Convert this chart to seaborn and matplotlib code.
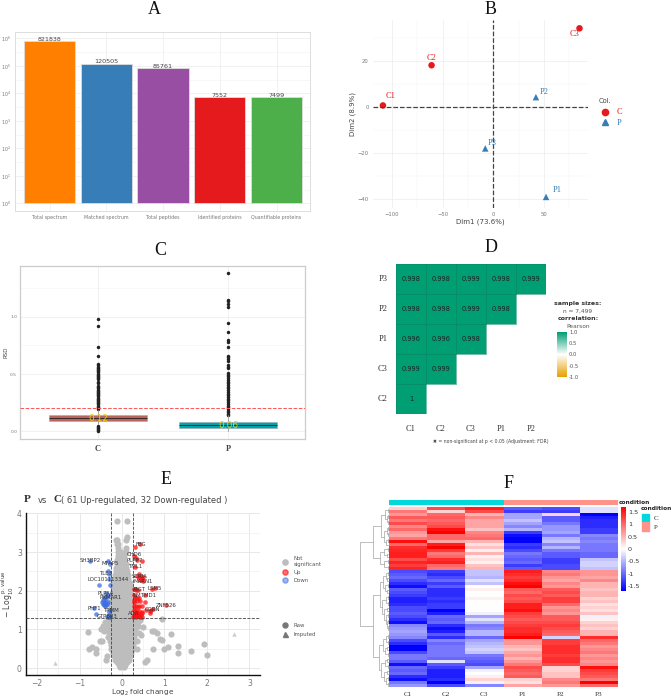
import numpy as np
import pandas as pd
import seaborn as sns
import matplotlib.pyplot as plt
from matplotlib.colors import LinearSegmentedColormap, ListedColormap
from matplotlib.lines import Line2D
from matplotlib.patches import Patch, Rectangle
from matplotlib.ticker import FixedLocator, NullFormatter

# panel A
bar_names = ['Total spectrum', 'Matched spectrum', 'Total peptides', 'Identified proteins', 'Quantifiable proteins']
bar_values = [821838, 120505, 85761, 7552, 7499]
bar_colors = ['#FF7F00', '#377EB8', '#984EA3', '#E41A1C', '#4DAF4A']

# panel B
pca_names = ['C1', 'C2', 'C3', 'P1', 'P2', 'P3']
pca_group = ['C', 'C', 'C', 'P', 'P', 'P']
pca_dim1 = [-109, -61, 85, 52, 42, -8]
pca_dim2 = [0.6, 18, 34, -39, 4.2, -18]

# panel C
rsd_c_out = [0.98, 0.92, 0.735, 0.655, 0.585, 0.575, 0.565, 0.555, 0.545, 0.535, 0.525, 0.515, 0.505, 0.495,
             0.485, 0.475, 0.465, 0.455, 0.43, 0.42, 0.395, 0.385, 0.375, 0.365, 0.355, 0.345, 0.335, 0.325,
             0.315, 0.305, 0.295, 0.285, 0.275, 0.265, 0.255, 0.245, 0.235, 0.225, 0.215, 0.205, 0.195,
             0.05, 0.04, 0.03, 0.02, 0.01, 0.0]
rsd_p_out = [1.38, 1.15, 1.135, 1.115, 1.085, 0.945, 0.87, 0.795, 0.78, 0.74, 0.66, 0.645, 0.63, 0.615, 0.58,
             0.565, 0.55, 0.51, 0.495, 0.48, 0.465, 0.45, 0.435, 0.42, 0.405, 0.39, 0.375, 0.36, 0.345, 0.33,
             0.315, 0.3, 0.285, 0.27, 0.255, 0.24, 0.225, 0.21, 0.195, 0.18, 0.165, 0.15, 0.14]
box_q1 = [0.092, 0.033]
box_med = [0.115, 0.055]
box_q3 = [0.14, 0.085]
box_lo = [0.06, 0.0]
box_hi = [0.19, 0.14]
box_colors = ['#B9645C', '#00A3AC']
box_text = ['0.12', '0.06']

# panel D
corr_rows = ['P3', 'P2', 'P1', 'C3', 'C2']
corr_cols = ['C1', 'C2', 'C3', 'P1', 'P2']
corr_p3 = [0.998, 0.998, 0.999, 0.998, 0.999]
corr_p2 = [0.998, 0.998, 0.999, 0.998, np.nan]
corr_p1 = [0.996, 0.996, 0.998, np.nan, np.nan]
corr_c3 = [0.999, 0.999, np.nan, np.nan, np.nan]
corr_c2 = [1, np.nan, np.nan, np.nan, np.nan]

# panel E, the grey mass row by row (y: x values)
grey_rows = {
    0.02: [-0.04, 0.04], 0.08: [-0.08, 0.0, 0.08], 0.15: [-0.12, -0.04, 0.04, 0.12],
    0.22: [-0.16, -0.08, 0.0, 0.08, 0.16], 0.3: [-0.19, -0.11, -0.03, 0.04, 0.11, 0.19],
    0.4: [-0.22, -0.13, -0.04, 0.04, 0.13, 0.22], 0.5: [-0.25, -0.15, -0.05, 0.05, 0.15, 0.25],
    0.6: [-0.26, -0.16, -0.05, 0.05, 0.16, 0.26], 0.7: [-0.28, -0.18, -0.09, 0.0, 0.09, 0.18, 0.28],
    0.8: [-0.29, -0.19, -0.09, 0.0, 0.09, 0.19, 0.29], 0.9: [-0.3, -0.2, -0.1, 0.0, 0.1, 0.2, 0.3],
    1.0: [-0.31, -0.21, -0.1, 0.0, 0.1, 0.21, 0.31], 1.1: [-0.31, -0.21, -0.1, 0.0, 0.1, 0.21, 0.31],
    1.2: [-0.3, -0.2, -0.1, 0.0, 0.1, 0.2, 0.3], 1.3: [-0.29, -0.2, -0.1, 0.0, 0.1, 0.2, 0.29],
    1.4: [-0.27, -0.18, -0.09, 0.0, 0.09, 0.18, 0.27], 1.5: [-0.26, -0.17, -0.08, 0.01, 0.1, 0.18, 0.26],
    1.6: [-0.25, -0.16, -0.08, 0.0, 0.08, 0.17, 0.25], 1.7: [-0.25, -0.16, -0.08, 0.0, 0.08, 0.17, 0.25],
    1.8: [-0.24, -0.16, -0.08, 0.0, 0.08, 0.16, 0.24], 1.9: [-0.23, -0.15, -0.07, 0.0, 0.08, 0.16, 0.23],
    2.0: [-0.22, -0.14, -0.06, 0.02, 0.1, 0.18], 2.1: [-0.21, -0.13, -0.05, 0.03, 0.11, 0.18],
    2.2: [-0.2, -0.12, -0.04, 0.04, 0.12, 0.18], 2.3: [-0.18, -0.1, -0.02, 0.06, 0.14],
    2.4: [-0.17, -0.09, -0.01, 0.07, 0.14], 2.5: [-0.15, -0.07, 0.01, 0.09, 0.13],
    2.6: [-0.13, -0.05, 0.03, 0.1], 2.7: [-0.12, -0.04, 0.04, 0.1], 2.8: [-0.11, -0.03, 0.05],
    2.9: [-0.09, -0.02, 0.04], 3.0: [-0.1, -0.02, 0.1], 3.1: [-0.1, 0.1], 3.2: [-0.12, -0.1],
    3.3: [-0.13, -0.12, 0.1], 3.4: [0.11], 3.8: [-0.11, 0.12],
}
grey_far_x = [1.92, 2.0, 1.63, 1.32, 1.32, 1.08, 1.0, 0.72, 0.7, 0.75, 0.82, 0.9, 0.95, 1.15, 0.55, 0.58, 0.45, 0.5,
              0.38, 0.4, 0.35, -0.8, -0.78, -0.7, -0.62, -0.6, -0.5, -0.52, -0.48, -0.45, -0.4, -0.35, -0.38, -0.42,
              -0.32, -0.34, -0.36, 0.95, 0.42, 0.36, 0.38]
grey_far_y = [0.62, 0.34, 0.43, 0.58, 0.4, 0.55, 0.5, 0.49, 0.95, 0.95, 0.9, 0.75, 0.72, 0.88, 0.15, 0.2, 0.85, 1.05,
              1.1, 0.9, 0.5, 0.94, 0.5, 0.54, 0.5, 0.4, 1.0, 0.7, 0.71, 1.1, 1.2, 0.3, 0.2, 0.95, 0.8, 1.15, 1.05,
              1.28, 1.25, 0.7, 1.2]
tri_x = [2.63, -1.58]
tri_y = [0.87, 0.12]
up_x = [0.3, 0.43, 0.29, 0.32, 0.36, 0.48, 0.31, 0.39, 0.41, 0.45, 0.5, 0.46, 0.36, 0.42, 0.5, 0.77, 0.71, 0.55, 0.55,
        0.28, 0.3, 0.34, 0.38, 0.29, 0.3, 0.35, 0.4, 0.28, 0.29, 0.35, 0.43, 0.47, 0.56, 1.04, 0.74, 0.68, 0.65,
        0.66, 0.28, 0.33, 0.37, 0.41, 0.46, 0.29, 0.34, 0.4, 0.47, 0.3, 0.36, 0.28, 0.32, 0.38, 0.44, 0.31, 0.35,
        0.4, 0.27, 0.33, 0.42, 0.48, 0.37]
up_y = [3.12, 3.2, 2.9, 2.85, 2.8, 2.78, 2.62, 2.44, 2.36, 2.38, 2.36, 2.3, 2.37, 2.28, 2.26, 2.07, 2.04, 1.88, 1.72,
        2.05, 2.04, 2.03, 2.02, 1.88, 1.85, 1.82, 1.8, 1.75, 1.72, 1.74, 1.74, 1.6, 1.5, 1.62, 1.53, 1.5, 1.47,
        1.42, 1.6, 1.6, 1.58, 1.6, 1.45, 1.5, 1.5, 1.48, 1.42, 1.42, 1.42, 1.38, 1.38, 1.38, 1.38, 1.34, 1.34,
        1.34, 1.33, 1.32, 1.32, 1.32, 1.42]
down_x = [-0.33, -0.75, -0.28, -0.32, -0.3, -0.55, -0.3, -0.28, -0.38, -0.34, -0.36, -0.4, -0.42, -0.38, -0.46, -0.44,
          -0.41, -0.39, -0.36, -0.33, -0.44, -0.42, -0.4, -0.38, -0.62, -0.66, -0.29, -0.31, -0.35, -0.28, -0.3, -0.32]
down_y = [2.78, 2.77, 2.7, 2.5, 2.42, 2.16, 2.3, 2.15, 1.93, 1.9, 1.86, 1.84, 1.8, 1.78, 1.72, 1.75, 1.72, 1.68, 1.66,
          1.72, 1.65, 1.62, 1.6, 1.64, 1.4, 1.54, 1.49, 1.45, 1.33, 1.32, 1.33, 1.35]
gene_names = ['FBG', 'CHD6', 'PLPP7', 'TML1', 'SCRIA', 'MARN1', 'LSM5', 'PIGT', 'LMTMD1', 'ZNF526', 'CGRN', 'ADA',
              'SH3BP2', 'MFAP5', 'TLE3', 'LOC101113344', 'PLPA4', 'PXMAR1', 'PHF1', 'TPMM', 'GTPBP3']
gene_x = [0.44, 0.3, 0.3, 0.31, 0.42, 0.5, 0.77, 0.4, 0.55, 1.04, 0.71, 0.28, -0.75, -0.27, -0.38, -0.33, -0.38, -0.27,
          -0.66, -0.27, -0.35]
gene_y = [3.2, 2.93, 2.77, 2.62, 2.37, 2.25, 2.07, 2.04, 1.87, 1.62, 1.51, 1.4, 2.77, 2.7, 2.45, 2.3, 1.93, 1.82, 1.54,
          1.49, 1.33]

# panel F
heat_c1 = [0.3, 0.9, 0.7, 1.1, 0.9, 1.2, 0.8, 1.0, 0.7, 0.6, 0.9, 1.6, 1.0, 1.4, 1.45, 1.5, 1.5, 1.2, 1.45, 1.3, 1.45,
           -1.2, -1.1, -1.0, -1.2, -1.4, -1.6, -1.1, -1.2, -1.3, -1.5, -1.5, -1.4, -1.2, -1.2, -1.1, -1.2, -1.4, -1.6,
           -0.8, -0.7, -0.6, -0.7, -0.8, -1.2, -1.4, -1.7, -1.7, -1.2, -0.9, -0.9, -1.1, -1.6, -1.0, -1.1, -1.0, -1.4,
           -1.6, -0.9, -0.7]
heat_c2 = [1.2, 0.3, 1.0, 1.1, 1.0, 1.1, 1.2, 1.6, 1.7, 1.0, 1.0, 0.6, 1.5, 1.7, 1.3, 0.9, 1.0, 1.4, 1.5, 1.0, 0.9,
           -1.3, -1.4, -1.2, -1.0, -1.3, -1.1, -1.4, -1.4, -1.4, -1.3, -1.4, -1.3, -1.3, -1.7, -1.5, -1.0, -1.1, -1.0,
           -1.4, -1.6, -1.5, -1.1, -1.4, -0.8, -1.0, -0.9, -0.9, -0.9, -0.9, -1.0, -0.2, -1.1, -1.3, -1.5, -1.5, -1.5,
           -1.4, -1.7, -1.2]
heat_c3 = [1.5, 1.2, 0.5, 0.8, 0.6, 0.6, 0.6, 0.4, 0.8, 0.9, 1.0, 0.5, 0.2, 0.4, 0.1, 0.5, 0.1, 0.2, 0.1, 0.4, 0.5,
           -0.4, -0.4, -0.5, -0.2, -0.4, 0.0, 0.1, 0.0, 0.0, 0.1, 0.0, 0.0, 0.0, 0.0, -0.1, -0.6, -0.2, -0.5,
           -0.9, -0.8, -0.5, -0.5, -1.0, -0.6, -0.5, -0.4, -0.3, -0.4, -0.9, -1.0, -1.1, -1.2, -0.6, -0.1, 0.0, 0.1,
           0.3, -0.1, -0.8]
heat_p1 = [-1.1, -1.3, -0.6, -0.6, -0.4, -0.6, -0.8, -0.5, -1.3, -1.6, -1.7, -1.7, -1.3, -1.4, -1.2, -0.9, -1.0, -1.1,
           -1.0, -1.3, -1.1,
           1.5, 1.4, 1.3, 1.4, 1.6, 1.8, 1.1, 1.0, 1.2, 1.1, 1.2, 1.5, 1.5, 1.6, 1.3, 1.2, 1.1, 1.2,
           1.3, 1.4, 1.4, 1.5, 1.8, 0.7, 0.7, 0.5, 0.4, 0.6, 0.7, 0.5, 0.7, 0.9, 1.2, 1.1, 1.0, 1.1, 0.3, 0.2, 0.6]
heat_p2 = [-1.2, -1.3, 0.3, -1.1, -1.1, -0.9, -0.7, -0.7, -0.6, -0.9, -0.5, -0.4, -0.8, -0.5, -0.9, -1.1, -1.1, -1.3,
           -1.3, -1.2, -1.2,
           0.8, 0.9, 0.7, 0.6, 0.8, 0.7, 1.1, 1.2, 1.1, 1.3, 1.3, 1.0, 0.7, 0.8, 0.7, 1.1, 1.1, 1.2,
           1.3, 1.2, 1.1, 1.0, -0.3, 1.3, 1.3, 1.4, 1.4, 1.4, 1.3, 1.4, 1.4, 1.2, 0.3, 0.3, 0.4, 0.4, 0.8, 0.9, 0.7]
heat_p3 = [-0.2, -0.2, -1.7, -1.5, -1.4, -1.4, -1.4, -1.3, -1.3, -0.8, -0.9, -0.8, -0.9, -0.9, -0.9, -1.0, -1.0, -0.4,
           -0.3, -0.3, -0.4,
           0.7, 0.7, 0.6, 0.8, 0.5, 0.5, 0.4, 0.5, 0.5, 0.3, 0.4, 0.2, 0.3, 0.2, 0.4, -0.1, 0.1, 0.3,
           0.4, 0.3, 0.5, 0.5, 1.4, 1.0, 0.9, 0.7, 0.8, 0.9, 0.7, 0.8, 0.7, 0.8, 1.6, 1.3, 1.2, 1.1, 0.9, 1.7, 1.0]
heat_samples = ['C1', 'C2', 'C3', 'P1', 'P2', 'P3']
heat_groups = [0, 0, 0, 1, 1, 1]
group_colors = ['#00D8DC', '#FF9289']

# row tree of the heatmap: (height, child, child), leaves are row numbers
top_tree = (16, (8, (4, (1, 0, 1), (2, (1, 2, 3), (1, 4, 5))), (5, (2, (1, 6, 7), (1, 8, 9)), (3, (1, 10, 11), 12))),
            (9, (5, (1, 13, 14), (2, 15, 16)), (5, (1, 17, 18), (1, 19, 20))))
low_a = (9, (6, (3, (1, 21, 22), (2, 23, 24)), (4, (1, 25, 26), (2, 27, 28))),
         (7, (3, (1, 29, 30), (1, 31, 32)), (5, (2, 33, 34), (3, (1, 35, 36), (2, (1, 37, 38), (1, 39, (0.5, 40, 41)))))))
low_b = (10, (6, (3, (1, 42, 43), (1, 44, 45)), (4, (2, 46, 47), (1, 48, 49))),
         (8, (4, (2, 50, 51), (1, 52, 53)), (5, (2, 54, 55), (3, (1, 56, 57), (1, 58, 59)))))
row_tree = (29, top_tree, (16, low_a, low_b))

W, H = 671, 700
sns.set_theme(style="white")
plt.rcParams['font.family'] = 'DejaVu Sans'
SERIF = 'Liberation Serif'
fig = plt.figure(figsize=(W / 100, H / 100), dpi=100)


def add_ax(x0, y0, x1, y1):
    return fig.add_axes([x0 / W, 1 - y1 / H, (x1 - x0) / W, (y1 - y0) / H])


def put_text(x, y, s, **kw):
    kw.setdefault('va', 'center')
    fig.text(x / W, 1 - y / H, s, **kw)


def put_legend(handles, labels, x, y, **kw):
    return fig.legend(handles, labels, loc='upper left', bbox_to_anchor=(x / W, 1 - y / H), frameon=False,
                      borderpad=0, borderaxespad=0, **kw)


for letter, lx, ly in [('A', 154, 9), ('B', 491, 9), ('C', 160.5, 250), ('D', 491, 248), ('E', 166, 480), ('F', 509, 484)]:
    put_text(lx, ly, letter, family=SERIF, fontsize=13, ha='center', color='#111111')

# A
ax = add_ax(15, 32, 310, 211)
df = pd.DataFrame({'name': bar_names, 'value': bar_values})
sns.barplot(data=df, x='name', y='value', hue='name', palette=bar_colors, saturation=1, width=0.9, bottom=1,
            edgecolor='#dddddd', linewidth=0.6, legend=False, ax=ax)
ax.set_yscale('log')
ax.set_xlim(-0.608, 4.59)
ax.set_ylim(10 ** -0.273, 10 ** 6.236)
ax.set_yticks([10 ** i for i in range(7)])
ax.yaxis.set_minor_locator(FixedLocator([10 ** (i + 0.5) for i in range(6)]))
ax.yaxis.set_minor_formatter(NullFormatter())
ax.grid(True, which='major', color='#ebebeb', lw=0.5)
ax.grid(True, which='minor', axis='y', color='#f2f2f2', lw=0.4)
ax.set_axisbelow(True)
ax.tick_params(axis='both', which='both', length=0, labelsize=3.4, labelcolor='#777777', pad=3)
ax.set_xlabel('')
ax.set_ylabel('')
for s in ax.spines.values():
    s.set_color('#dddddd')
    s.set_linewidth(0.7)
for i, v in enumerate(bar_values):
    ax.annotate(str(v), (i, v), xytext=(0, -0.5), textcoords='offset points', ha='center', va='bottom',
                fontsize=4.6, color='#444444')

# B
ax = add_ax(373, 20, 588, 208)
df = pd.DataFrame({'dim1': pca_dim1, 'dim2': pca_dim2, 'group': pca_group, 'name': pca_names})
pca_palette = {'C': '#E41A1C', 'P': '#377EB8'}
sns.scatterplot(data=df, x='dim1', y='dim2', hue='group', style='group', markers={'C': 'o', 'P': '^'},
                palette=pca_palette, s=22, legend=False, linewidth=0, ax=ax)
ax.set_xlim(-118.8, 93.4)
ax.set_ylim(-43.8, 37.6)
ax.set_xticks([-100, -50, 0, 50])
ax.set_yticks([-40, -20, 0, 20])
ax.set_xticks([-75, -25, 25, 75], minor=True)
ax.set_yticks([-30, -10, 10, 30], minor=True)
ax.grid(True, which='major', color='#ebebeb', lw=0.5)
ax.grid(True, which='minor', color='#f3f3f3', lw=0.35)
ax.axhline(0, color='#444444', ls='--', lw=0.9)
ax.axvline(0, color='#444444', ls='--', lw=0.9)
sns.despine(ax=ax, left=True, bottom=True)
ax.tick_params(axis='both', which='major', length=1.5, width=0.4, color='#777777', labelsize=3.8, labelcolor='#777777', pad=1.5)
ax.tick_params(axis='both', which='minor', length=0)
ax.set_xlabel('Dim1 (73.6%)', fontsize=5, color='#444444', labelpad=1)
ax.set_ylabel('Dim2 (8.9%)', fontsize=5, color='#444444', labelpad=1)
label_off = {'C1': (2, 6.8), 'C2': (0, 5.3), 'C3': (-7, -3.9), 'P1': (4.5, 5.3), 'P2': (2.5, 3.6), 'P3': (1.8, 3.6)}
for _, r in df.iterrows():
    ax.annotate(r['name'], (r['dim1'], r['dim2']), xytext=label_off[r['name']], textcoords='offset points',
                family=SERIF, fontsize=6, color=pca_palette[r['group']], ha='left' if r['name'] != 'C2' else 'center',
                va='center')
put_text(599, 101, 'Col.', fontsize=4.8, color='#444444')
leg = put_legend([Line2D([], [], marker='o', ls='', color=pca_palette['C'], ms=4.5),
                  Line2D([], [], marker='^', ls='', color=pca_palette['P'], ms=4.5)], ['C', 'P'], 600, 108.5,
                 prop={'family': SERIF, 'size': 6}, handlelength=1.2, handletextpad=0.8, labelspacing=0.25)
for t, c in zip(leg.get_texts(), pca_palette.values()):
    t.set_color(c)

# C
ax = add_ax(20, 266, 305, 439)
df = pd.DataFrame({'group': ['C'] * len(rsd_c_out) + ['P'] * len(rsd_p_out), 'rsd': rsd_c_out + rsd_p_out})
sns.stripplot(data=df, x='group', y='rsd', order=['C', 'P'], jitter=False, color='#222222', size=2.5, ax=ax, zorder=3)
stats = [{'q1': box_q1[i], 'med': box_med[i], 'q3': box_q3[i], 'whislo': box_lo[i], 'whishi': box_hi[i], 'fliers': []}
         for i in range(2)]
boxes = ax.bxp(stats, positions=[0, 1], widths=0.75, patch_artist=True, showfliers=False, showcaps=False,
               manage_ticks=False, zorder=4,
               boxprops={'edgecolor': '#aaaaaa', 'linewidth': 0.4},
               medianprops={'color': '#222222', 'linewidth': 0.6},
               whiskerprops={'color': '#999999', 'linewidth': 0.6})
for b, c in zip(boxes['boxes'], box_colors):
    b.set_facecolor(c)
ax.axhline(0.2, color='#FF5555', ls='--', lw=0.7, zorder=5)
ax.set_xlim(-0.6, 1.59)
ax.set_ylim(-0.067, 1.444)
ax.set_yticks([0, 0.5, 1.0])
ax.set_yticks([0.25, 0.75, 1.25], minor=True)
ax.set_yticklabels(['0.0', '0.5', '1.0'])
ax.grid(True, which='major', color='#ebebeb', lw=0.5)
ax.grid(True, which='minor', axis='y', color='#f3f3f3', lw=0.4)
ax.set_axisbelow(True)
ax.tick_params(axis='y', which='major', length=1, width=0.3, labelsize=3.2, labelcolor='#777777', pad=1)
ax.tick_params(axis='y', which='minor', length=0)
ax.tick_params(axis='x', length=1, width=0.3, pad=3)
for t in ax.get_xticklabels():
    t.set_fontfamily(SERIF)
    t.set_fontweight('bold')
    t.set_fontsize(6)
    t.set_color('#444444')
ax.set_xlabel('')
ax.set_ylabel('RSD', fontsize=4, color='#444444', labelpad=1)
for s in ax.spines.values():
    s.set_color('#cccccc')
    s.set_linewidth(0.9)
for i, txt in enumerate(box_text):
    ax.text(i, box_med[i], txt, color='#E8CE10', fontsize=6.5, ha='center', va='center', zorder=6)

# D
ax = add_ax(396, 264, 546, 414)
cax = add_ax(557, 332, 567, 377)
corr = pd.DataFrame([corr_p3, corr_p2, corr_p1, corr_c3, corr_c2], index=corr_rows, columns=corr_cols)
corr_cmap = LinearSegmentedColormap.from_list('corr', ['#E69F00', '#FFFFFF', '#009E73'])
sns.heatmap(corr, cmap=corr_cmap, vmin=-1, vmax=1, annot=True, fmt='g', annot_kws={'fontsize': 4.8, 'color': '#222222'},
            mask=corr.isna(), cbar_ax=cax, ax=ax)
# only the filled cells get an outline
for r in range(len(corr_rows)):
    for c in range(len(corr_cols)):
        if not np.isnan(corr.iloc[r, c]):
            ax.add_patch(Rectangle((c, r), 1, 1, fill=False, edgecolor='#0B8A68', lw=0.4))
ax.tick_params(axis='both', length=2, width=0.3, color='#888888', labelsize=6, labelcolor='#333333')
for t in ax.get_xticklabels() + ax.get_yticklabels():
    t.set_fontfamily(SERIF)
ax.tick_params(axis='x', rotation=0, pad=6)
ax.tick_params(axis='y', rotation=0, pad=4)
cax.tick_params(length=0, labelsize=3.8, labelcolor='#555555', pad=1.5)
cax.set_yticks([-1, -0.5, 0, 0.5, 1])
cax.set_yticklabels(['-1.0', '-0.5', '0.0', '0.5', '1.0'])
put_text(578, 303, 'sample sizes:', fontsize=4.5, fontweight='bold', ha='center', color='#333333')
put_text(578, 311, 'n = 7,499', fontsize=4.2, ha='center', color='#555555')
put_text(578, 319, 'correlation:', fontsize=4.5, fontweight='bold', ha='center', color='#333333')
put_text(578, 326, 'Pearson', fontsize=4.2, ha='center', color='#555555')
put_text(491, 441, '\u2716 = non-significant at p < 0.05 (Adjustment: FDR)', fontsize=3.3, ha='center', color='#444444')

# E
ax = add_ax(26, 513, 260, 675)
rows_x = [x for y, xs in grey_rows.items() for x in xs] + grey_far_x
rows_y = [y for y, xs in grey_rows.items() for x in xs] + grey_far_y
sns.scatterplot(x=rows_x, y=rows_y, color='#BDBDBD', s=20, linewidth=0, alpha=1, ax=ax, legend=False, zorder=2)
sns.scatterplot(x=tri_x, y=tri_y, color='#CCCCCC', marker='^', s=10, linewidth=0, ax=ax, legend=False, zorder=2)
sns.scatterplot(x=up_x, y=up_y, color='#FF1010', s=11, linewidth=0, alpha=0.75, ax=ax, legend=False, zorder=3)
sns.scatterplot(x=down_x, y=down_y, color='#3D6FE0', s=11, linewidth=0, alpha=0.75, ax=ax, legend=False, zorder=3)
ax.set_xlim(-2.26, 3.25)
ax.set_ylim(-0.18, 4.01)
ax.set_xticks([-2, -1, 0, 1, 2, 3])
ax.set_yticks([0, 1, 2, 3, 4])
ax.set_xticks([-1.5, -0.5, 0.5, 1.5, 2.5], minor=True)
ax.set_yticks([0.5, 1.5, 2.5, 3.5], minor=True)
ax.grid(True, which='major', color='#e8e8e8', lw=0.7)
ax.grid(True, which='minor', color='#f0f0f0', lw=0.5)
ax.set_axisbelow(True)
for v in [-0.27, 0.27]:
    ax.axvline(v, color='#444444', ls='--', lw=0.6, zorder=4)
ax.axhline(1.3, color='#444444', ls='--', lw=0.6, zorder=4)
sns.despine(ax=ax)
ax.spines['left'].set_color('#111111')
ax.spines['bottom'].set_color('#111111')
ax.spines['left'].set_linewidth(1)
ax.spines['bottom'].set_linewidth(1)
ax.tick_params(axis='both', which='major', length=1.5, width=0.4, labelsize=5.5, labelcolor='#777777', pad=1.5)
ax.tick_params(axis='both', which='minor', length=0)
ax.set_xlabel('Log$_2$ fold change', fontsize=5.2, color='#444444', labelpad=0)
ax.set_ylabel('$-$ Log$_{10}^{\\ \\mathrm{p.value}}$', fontsize=5.6, color='#444444', labelpad=1)
for g, gx, gy in zip(gene_names, gene_x, gene_y):
    ax.text(gx, gy, g, fontsize=3.9, ha='center', va='center', color='#333333', zorder=5)
put_text(24, 500, 'P', family=SERIF, fontweight='bold', fontsize=8, color='#333333')
put_text(38, 500.5, 'vs', fontsize=6, color='#444444')
put_text(53, 500, 'C', family=SERIF, fontweight='bold', fontsize=8, color='#333333')
put_text(61, 500.5, '( 61 Up-regulated, 32 Down-regulated )', fontsize=6.05, color='#444444')
put_legend([Line2D([], [], marker='o', ls='', color=c, ms=3.8, alpha=a)
            for c, a in [('#BDBDBD', 1), ('#FF1010', 0.6), ('#3D6FE0', 0.5)]],
           ['Not\nsignificant', 'Up', 'Down'], 282, 556, fontsize=3.9, handlelength=1, handletextpad=1.2,
           labelspacing=0.6, labelcolor='#555555')
put_legend([Line2D([], [], marker=m, ls='', color='#777777', ms=3.6) for m in ['o', '^']],
           ['Raw', 'Imputed'], 282, 623, fontsize=3.9, handlelength=1, handletextpad=1.2,
           labelspacing=0.7, labelcolor='#555555')

# F
ax = add_ax(389, 507, 618, 687)
cax = add_ax(620.7, 507, 626, 591)
heat = pd.DataFrame({'C1': heat_c1, 'C2': heat_c2, 'C3': heat_c3, 'P1': heat_p1, 'P2': heat_p2, 'P3': heat_p3})
heat_cmap = LinearSegmentedColormap.from_list('bwr2', ['#0000FF', '#FFFFFF', '#FF0000'])
sns.heatmap(heat, cmap=heat_cmap, vmin=-1.7, vmax=1.7, yticklabels=False, cbar_ax=cax, ax=ax)
ax.tick_params(axis='x', length=0, labelsize=5.2, labelcolor='#333333', pad=3.5, rotation=0)
for t in ax.get_xticklabels():
    t.set_fontfamily(SERIF)
cax.set_yticks([-1.5, -1, -0.5, 0, 0.5, 1, 1.5])
cax.set_yticklabels(['-1.5', '-1', '-0.5', '0', '0.5', '1', '1.5'])
cax.tick_params(length=0, labelsize=4.6, labelcolor='#333333', pad=1.5)

bar_ax = add_ax(389, 500, 618, 505)
sns.heatmap([heat_groups], cmap=ListedColormap(group_colors), cbar=False, xticklabels=False, yticklabels=False, ax=bar_ax)

tree_ax = add_ax(359, 507, 389, 687)
tree_ax.set_xlim(30, 0)
tree_ax.set_ylim(60, 0)
tree_ax.axis('off')


def draw_tree(node):
    # returns (row centre, height) of the node
    if not isinstance(node, tuple):
        return node + 0.5, 0
    h, a, b = node
    ya, ha = draw_tree(a)
    yb, hb = draw_tree(b)
    tree_ax.plot([ha, h, h, hb], [ya, ya, yb, yb], color='#999999', lw=0.45, solid_joinstyle='miter')
    return (ya + yb) / 2, h


draw_tree(row_tree)

put_text(619, 503, 'condition', fontsize=4.2, fontweight='bold', color='#222222')
put_text(641, 509, 'condition', fontsize=4.2, fontweight='bold', color='#222222')
put_legend([Patch(color=group_colors[0]), Patch(color=group_colors[1])], ['C', 'P'], 642, 513.5,
           prop={'family': SERIF, 'size': 5}, handlelength=1.05, handleheight=1.6, handletextpad=0.7,
           labelspacing=0.0, labelcolor='#333333')

fig.savefig('out.png', dpi=100)
